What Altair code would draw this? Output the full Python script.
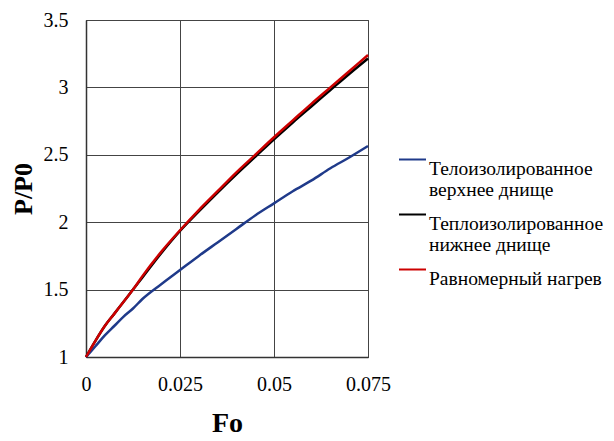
import altair as alt
import pandas as pd

fo = [0, 0.0025, 0.005, 0.0075, 0.01, 0.0125, 0.015, 0.02, 0.025, 0.03, 0.035,
      0.04, 0.045, 0.05, 0.055, 0.06, 0.065, 0.07, 0.075]

upper = [1.0, 1.08, 1.16, 1.23, 1.30, 1.36, 1.43, 1.54, 1.645, 1.75, 1.85,
         1.95, 2.05, 2.14, 2.23, 2.31, 2.40, 2.48, 2.565]
lower = [1.0, 1.12, 1.23, 1.32, 1.41, 1.50, 1.59, 1.77, 1.935, 2.08, 2.22,
         2.355, 2.485, 2.615, 2.74, 2.86, 2.98, 3.10, 3.215]
uniform = [1.0, 1.12, 1.23, 1.32, 1.41, 1.50, 1.60, 1.78, 1.94, 2.09, 2.23,
           2.37, 2.50, 2.63, 2.755, 2.88, 3.0, 3.12, 3.24]

names = ["Телоизолированное верхнее днище",
         "Теплоизолированное нижнее днище",
         "Равномерный нагрев"]
colors = ["#1f3a8a", "#000000", "#cc0000"]

rows = []
for name, ys in [(names[1], lower), (names[0], upper), (names[2], uniform)]:
    for x, y in zip(fo, ys):
        rows.append({"Fo": x, "P": y, "series": name})
df = pd.DataFrame(rows)

FONT = "Liberation Serif"

chart = alt.Chart(df).mark_line(strokeWidth=2.5, interpolate="monotone").encode(
    x=alt.X("Fo:Q",
            scale=alt.Scale(domain=[0, 0.075], nice=False),
            axis=alt.Axis(values=[0, 0.025, 0.05, 0.075], title="Fo",
                          labelExpr="datum.value == 0 ? '0' : format(datum.value, '.3~f')",
                          ticks=False, labelPadding=17, titlePadding=15,
                          labelFlush=False,
                          labelFontSize=20, titleFontSize=28,
                          titleFontWeight="bold")),
    y=alt.Y("P:Q",
            scale=alt.Scale(domain=[1, 3.5], nice=False, zero=False),
            axis=alt.Axis(values=[1, 1.5, 2, 2.5, 3, 3.5], title="P/P0",
                          format="~g", labelFlush=False,
                          ticks=False, labelPadding=18, titlePadding=7,
                          labelFontSize=20, titleFontSize=26,
                          titleFontWeight="bold")),
    color=alt.Color("series:N",
                    scale=alt.Scale(domain=names, range=colors),
                    legend=alt.Legend(
                        title=None, orient="none", legendX=312, legendY=125,
                        symbolType="stroke", symbolSize=729, symbolStrokeWidth=2,
                        labelExpr="indexof(datum.label, 'днище') >= 0 ? split(replace(datum.label, ' ', '|'), '|') : datum.label",
                        labelFont=FONT, labelFontSize=19.5, labelLimit=400,
                        labelOffset=2, labelColor="#000000",
                        labelBaseline="top", rowPadding=-6, padding=0)),
).properties(
    width=282, height=337,
    padding={"left": 78, "top": 12, "right": 238, "bottom": 76},
    autosize=alt.AutoSizeParams(type="none"),
    background="white",
).configure_view(
    stroke="#333333", strokeWidth=1
).configure_axis(
    labelFont=FONT, titleFont=FONT, labelColor="#000000", titleColor="#000000",
    grid=True, gridColor="#444444", gridWidth=1, domainColor="#333333",
    domainWidth=1.5,
)

chart.save("out.html", embed_options={"renderer": "svg", "actions": False})
